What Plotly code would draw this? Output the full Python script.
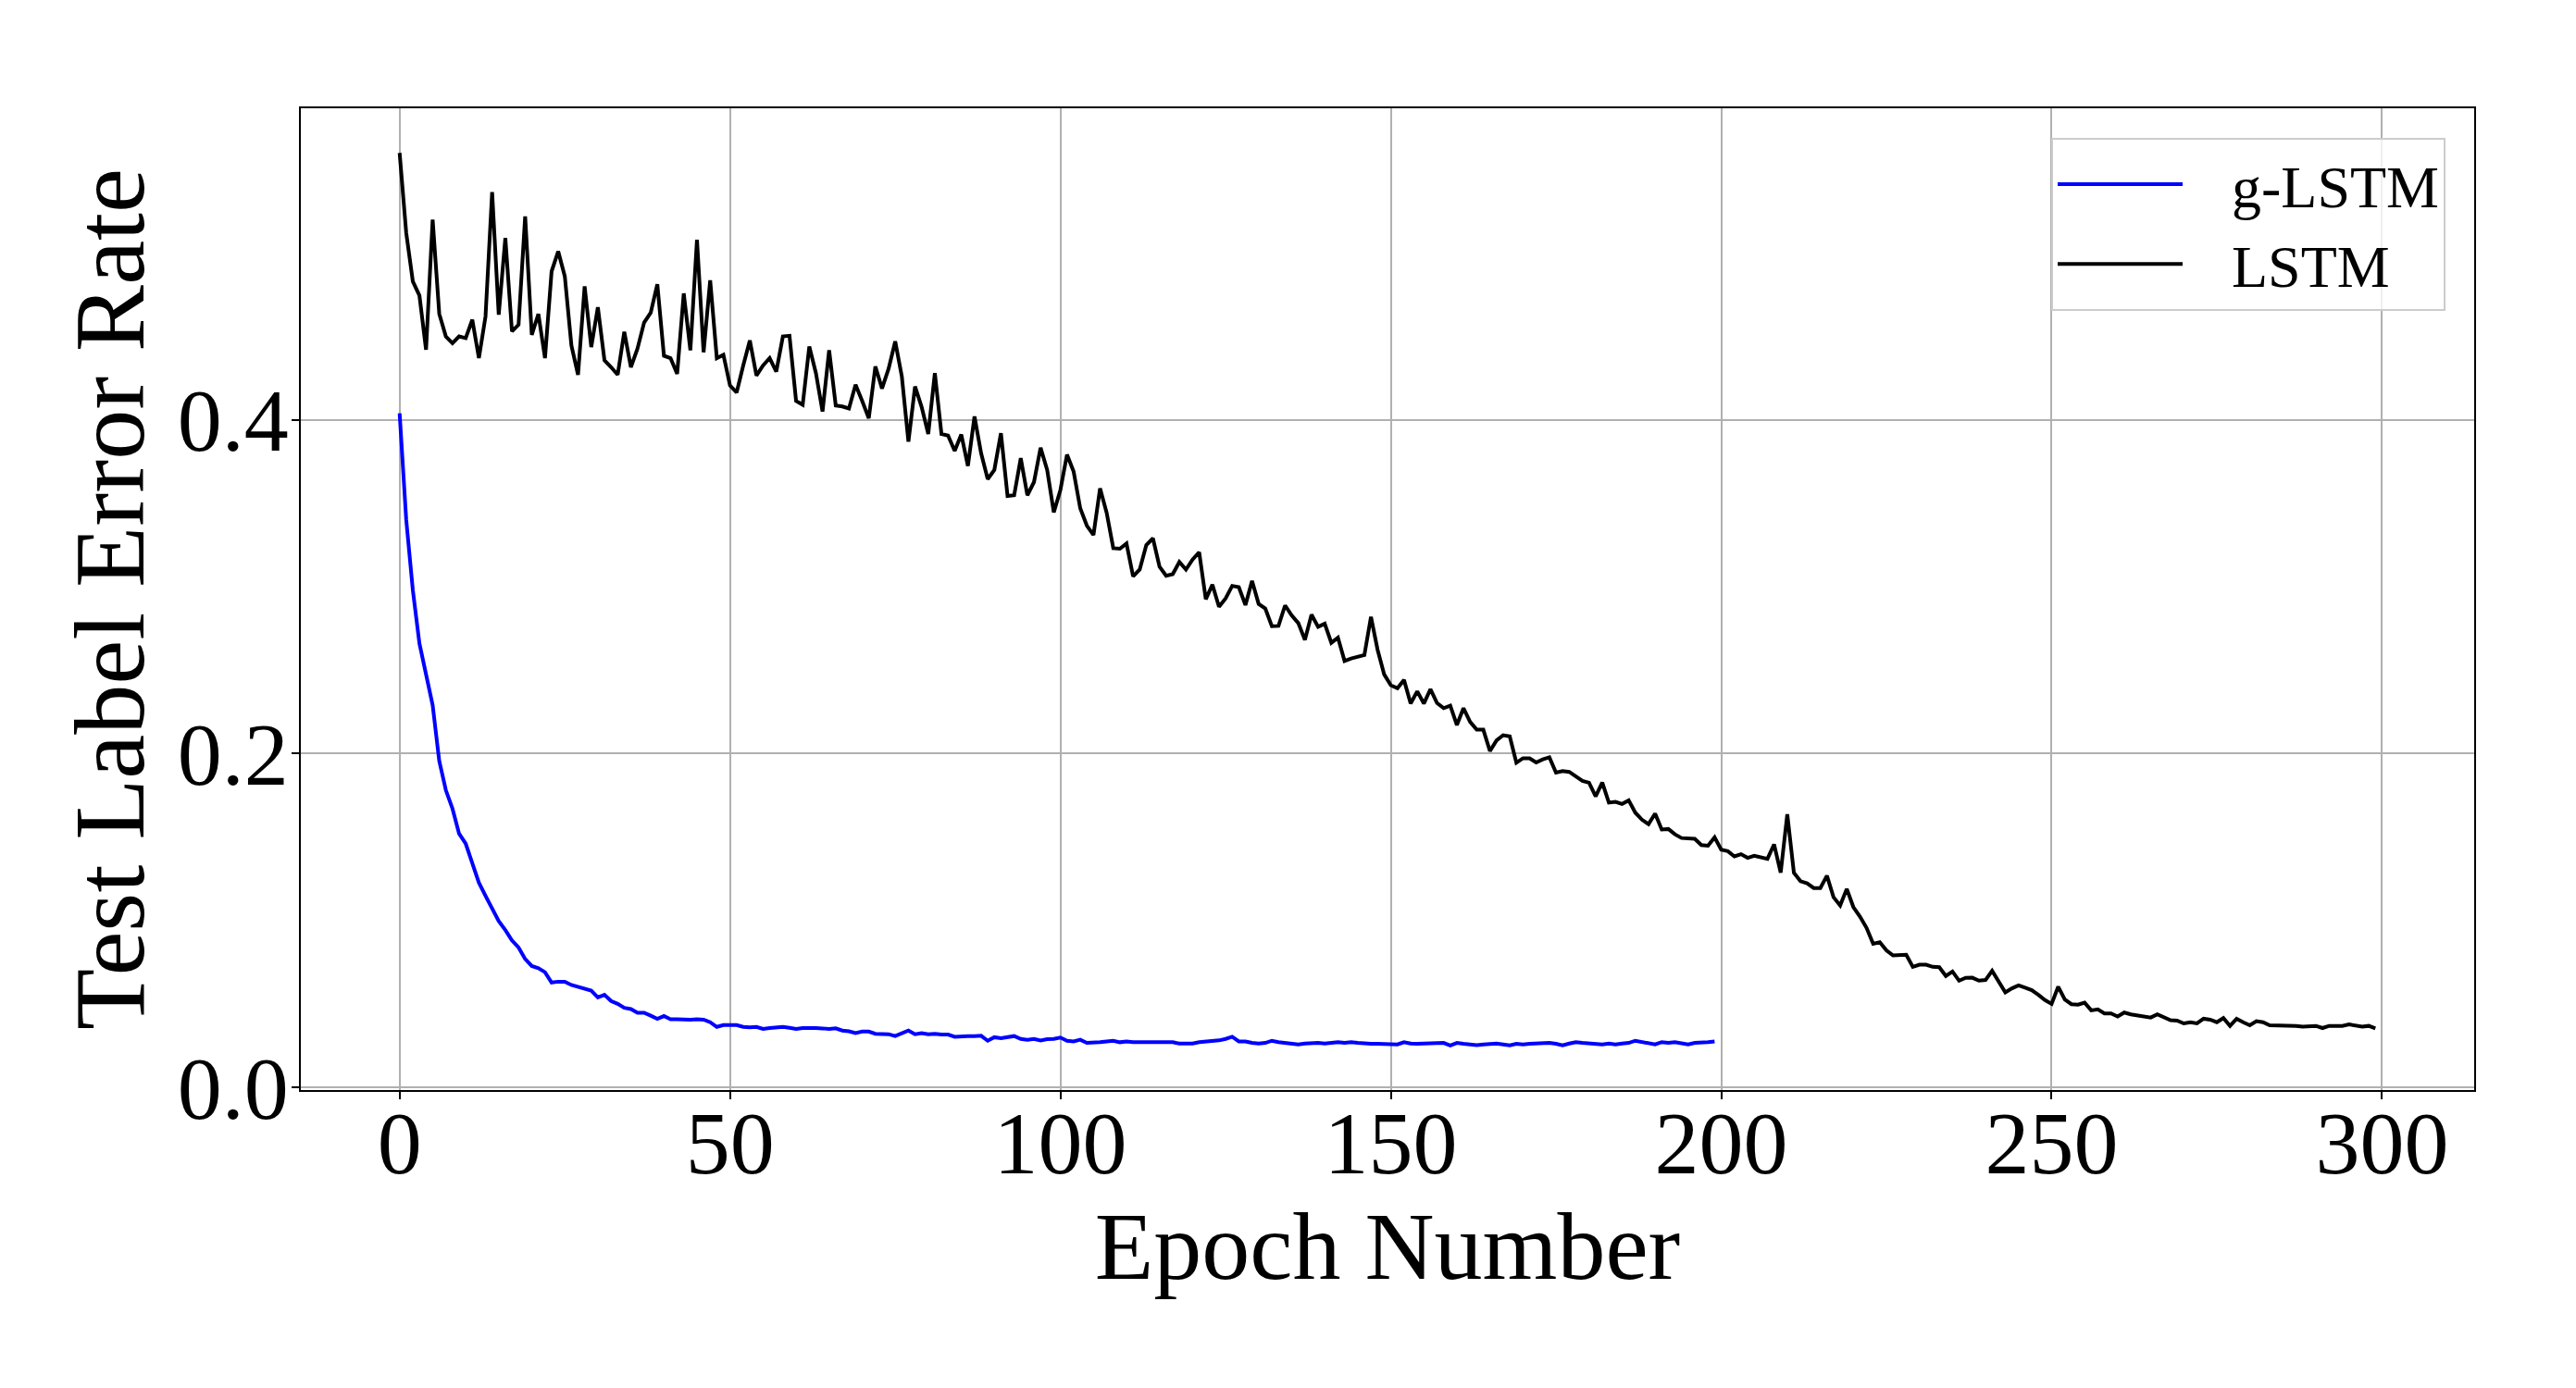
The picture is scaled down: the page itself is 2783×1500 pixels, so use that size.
import plotly.graph_objects as go

# ---------------- data ----------------
lstm_error = [
    0.560, 0.512, 0.483, 0.4745, 0.442, 0.520, 0.4635, 0.450, 0.446, 0.450,
    0.449, 0.460, 0.437, 0.462, 0.5365, 0.463, 0.509, 0.453, 0.457, 0.522,
    0.451, 0.4635, 0.437, 0.489, 0.501, 0.486, 0.4445, 0.427, 0.480, 0.4436,
    0.4675, 0.4357, 0.4316, 0.427, 0.4528, 0.4316, 0.4427, 0.4583, 0.4642, 0.4813,
    0.4384, 0.437, 0.4276, 0.4758, 0.4417, 0.508, 0.4405, 0.4837, 0.437, 0.439,
    0.4206, 0.4164, 0.4326, 0.4476, 0.4265, 0.4326, 0.437, 0.4289, 0.450, 0.4504,
    0.4114, 0.409, 0.444, 0.428, 0.405, 0.4417, 0.4086, 0.408, 0.4068, 0.4211,
    0.4114, 0.401, 0.432, 0.4188, 0.4307, 0.447, 0.426, 0.387, 0.420, 0.4077,
    0.3915, 0.428, 0.3915, 0.3906, 0.3814, 0.3912, 0.3724, 0.402, 0.380, 0.3645,
    0.370, 0.392, 0.3544, 0.3548, 0.377, 0.3548, 0.3627, 0.3833, 0.370, 0.3446,
    0.358, 0.3792, 0.369, 0.347, 0.3366, 0.331, 0.359, 0.3443, 0.3231, 0.3228,
    0.3259, 0.3062, 0.3103, 0.325, 0.329, 0.312, 0.3066, 0.3075, 0.3149, 0.3103,
    0.3163, 0.3207, 0.2925, 0.3012, 0.288, 0.293, 0.3005, 0.2997, 0.289, 0.3035,
    0.2897, 0.287, 0.2763, 0.2765, 0.2888, 0.2828, 0.2782, 0.2682, 0.2833, 0.276,
    0.2778, 0.2664, 0.2695, 0.2555, 0.257, 0.2579, 0.259, 0.282, 0.2622, 0.2474,
    0.241, 0.2392, 0.2441, 0.230, 0.2373, 0.230, 0.2386, 0.2303, 0.2272, 0.2287,
    0.2171, 0.2272, 0.219, 0.2143, 0.2143, 0.2015, 0.2079, 0.211, 0.2103, 0.1945,
    0.1972, 0.1972, 0.1947, 0.1965, 0.1978, 0.1886, 0.1895, 0.189, 0.1862, 0.1836,
    0.1825, 0.1744, 0.1827, 0.1706, 0.1711, 0.1698, 0.172, 0.1646, 0.1604, 0.1577,
    0.164, 0.1545, 0.1548, 0.1516, 0.1494, 0.1492, 0.1489, 0.1452, 0.1448, 0.1498,
    0.1424, 0.1415, 0.1384, 0.1397, 0.1375, 0.1388, 0.1378, 0.1369, 0.1456, 0.1286,
    0.1636, 0.1286, 0.1235, 0.1222, 0.1194, 0.1194, 0.1268, 0.1139, 0.109, 0.1189,
    0.108, 0.1023, 0.0955, 0.086, 0.0869, 0.0821, 0.079, 0.079, 0.0794, 0.0722,
    0.0735, 0.0735, 0.0722, 0.072, 0.0667, 0.0694, 0.0639, 0.0656, 0.0657, 0.0639,
    0.0643, 0.0698, 0.0634, 0.0569, 0.0593, 0.0611, 0.0597, 0.0582, 0.0554, 0.0523,
    0.050, 0.0603, 0.0526, 0.0498, 0.0495, 0.0507, 0.0461, 0.0467, 0.0443, 0.0443,
    0.0424, 0.0448, 0.0437, 0.043, 0.0424, 0.0418, 0.0437, 0.0418, 0.0402, 0.040,
    0.0383, 0.039, 0.0383, 0.0411, 0.0405, 0.039, 0.0415, 0.0368, 0.0411, 0.039,
    0.0372, 0.0396, 0.039, 0.0372, 0.0372, 0.037, 0.0368, 0.0368, 0.0363, 0.0364,
    0.0368, 0.0355, 0.0368, 0.0368, 0.0368, 0.0377, 0.0368, 0.0363, 0.0368, 0.0353,
]

glstm_error = [
    0.404, 0.340, 0.298, 0.266, 0.2475, 0.229, 0.1955, 0.178, 0.167, 0.152,
    0.146, 0.1337, 0.1226, 0.1147, 0.1073, 0.0996, 0.0942, 0.088, 0.0838, 0.0769,
    0.0727, 0.0714, 0.069, 0.0628, 0.0633, 0.0633, 0.0613, 0.0601, 0.0589, 0.0579,
    0.0539, 0.0554, 0.0517, 0.0500, 0.0476, 0.0469, 0.0447, 0.0447, 0.0429, 0.041,
    0.0427, 0.0408, 0.0408, 0.0405, 0.0405, 0.0408, 0.0405, 0.039, 0.0362, 0.0373,
    0.0373, 0.0373, 0.0362, 0.0359, 0.0362, 0.035, 0.0355, 0.0359, 0.0362, 0.0357,
    0.035, 0.0355, 0.0357, 0.0355, 0.0353, 0.035, 0.0353, 0.034, 0.0336, 0.0325,
    0.0334, 0.0334, 0.0321, 0.0318, 0.0318, 0.0307, 0.0325, 0.034, 0.0318, 0.0325,
    0.0318, 0.0321, 0.0316, 0.0316, 0.0303, 0.0307, 0.0307, 0.0307, 0.0309, 0.0279,
    0.030, 0.0294, 0.030, 0.0307, 0.029, 0.0285, 0.029, 0.0281, 0.0288, 0.029,
    0.0298, 0.0279, 0.0275, 0.0285, 0.0266, 0.0266, 0.027, 0.0275, 0.0279, 0.027,
    0.0275, 0.027, 0.027, 0.0275, 0.0275, 0.0275, 0.0275, 0.027, 0.0262, 0.0261,
    0.0262, 0.027, 0.0273, 0.0275, 0.0281, 0.029, 0.0303, 0.0275, 0.0275, 0.0266,
    0.0262, 0.0266, 0.0279, 0.0271, 0.0266, 0.0262, 0.0257, 0.0262, 0.0266, 0.0266,
    0.0262, 0.0266, 0.0271, 0.0266, 0.027, 0.0266, 0.0262, 0.0261, 0.0261, 0.0261,
    0.0257, 0.0257, 0.027, 0.0262, 0.0261, 0.0262, 0.0262, 0.0262, 0.0266, 0.0251,
    0.0266, 0.0261, 0.0257, 0.0253, 0.0257, 0.0262, 0.0262, 0.0257, 0.0251, 0.0261,
    0.0257, 0.0261, 0.0262, 0.0262, 0.0266, 0.0261, 0.0251, 0.0262, 0.027, 0.0266,
    0.0262, 0.0262, 0.0257, 0.0262, 0.0257, 0.0262, 0.0266, 0.0279, 0.0271, 0.0262,
    0.0257, 0.0271, 0.0266, 0.027, 0.0262, 0.0257, 0.0266, 0.0266, 0.0271, 0.0275,
]

lstm_epochs = list(range(len(lstm_error)))
glstm_epochs = list(range(len(glstm_error)))

series_names = ["g-LSTM", "LSTM"]
x_tick_values = [0, 50, 100, 150, 200, 250, 300]
x_tick_labels = ["0", "50", "100", "150", "200", "250", "300"]
y_tick_values = [0.0, 0.2, 0.4]
y_tick_labels = ["0.0", "0.2", "0.4"]
x_title = "Epoch Number"
y_title = "Test Label Error Rate"

# ---------------- figure ----------------
FONT = "Liberation Serif, DejaVu Serif, serif"
GAP = "\u00a0\u00a0\u00a0"  # spacing between legend line sample and its label

fig = go.Figure()
fig.add_trace(go.Scatter(x=glstm_epochs, y=glstm_error, mode="lines",
                         name=GAP + series_names[0],
                         line=dict(color="#0000ff", width=4)))
fig.add_trace(go.Scatter(x=lstm_epochs, y=lstm_error, mode="lines",
                         name=GAP + series_names[1],
                         line=dict(color="#000000", width=4)))

# matplotlib-like 5% margins
all_x = lstm_epochs + glstm_epochs
all_y = lstm_error + glstm_error
xr = max(all_x) - min(all_x)
yr = max(all_y) - min(all_y)
x_range = [min(all_x) - 0.05 * xr, max(all_x) + 0.05 * xr]
y_range = [min(all_y) - 0.05 * yr, max(all_y) + 0.05 * yr]

axis_common = dict(
    showgrid=True, gridcolor="#b0b0b0", gridwidth=2,
    showline=True, linecolor="black", linewidth=2, mirror=True,
    ticks="outside", ticklen=8, tickwidth=2, tickcolor="black",
    zeroline=False,
    tickfont=dict(family=FONT, size=96, color="black"),
)

fig.update_layout(
    width=2783, height=1500,
    margin=dict(l=325, r=110, t=117, b=322, autoexpand=False),
    paper_bgcolor="white", plot_bgcolor="white",
    font=dict(family=FONT, color="black"),
    xaxis=dict(range=x_range, tickmode="array", tickvals=x_tick_values,
               ticktext=x_tick_labels, ticklabelstandoff=-35,
               title=dict(text=x_title, font=dict(family=FONT, size=104), standoff=0),
               automargin=False, **axis_common),
    yaxis=dict(range=y_range, tickmode="array", tickvals=y_tick_values,
               ticktext=y_tick_labels, ticklabelstandoff=-16,
               title=dict(text=y_title, font=dict(family=FONT, size=108), standoff=0),
               automargin=False, **axis_common),
    legend=dict(x=0.9868, y=0.970, xanchor="right", yanchor="top",
                bgcolor="rgba(255,255,255,0.8)", bordercolor="#cccccc", borderwidth=2,
                font=dict(family=FONT, size=64, color="black"),
                itemwidth=135, tracegroupgap=0),
)

fig.write_html("out.html")
